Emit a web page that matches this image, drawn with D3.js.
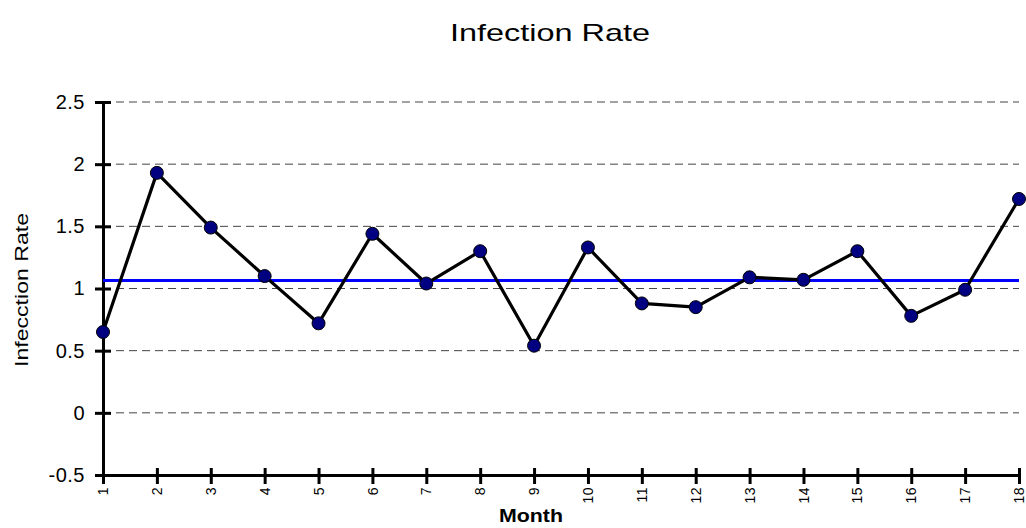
<!DOCTYPE html>
<html>
<head>
<meta charset="utf-8">
<script src="https://cdn.jsdelivr.net/npm/d3@7"></script>
<style>
  html, body { margin: 0; padding: 0; background: #fff; }
  svg { display: block; font-family: "Liberation Sans", Arial, sans-serif; }
</style>
</head>
<body>
<svg id="chart" width="1026" height="528"></svg>
<script>
// Monthly infection rates
const months = [1, 2, 3, 4, 5, 6, 7, 8, 9, 10, 11, 12, 13, 14, 15, 16, 17, 18];
const rates = [0.65, 1.93, 1.49, 1.10, 0.72, 1.44, 1.04, 1.30, 0.54, 1.33, 0.88, 0.85, 1.09, 1.07, 1.30, 0.78, 0.99, 1.72];
// Reference (centre) line
const centerLine = 1.065;
const yTicks = [-0.5, 0, 0.5, 1, 1.5, 2, 2.5];

const svg = d3.select("#chart");
const plotLeft = 103, plotRight = 1019, plotTop = 102, plotBottom = 475;
const fontFamily = "Liberation Sans, Arial, sans-serif";

const x = d3.scaleLinear().domain([1, 18]).range([plotLeft, plotRight]);
const y = d3.scaleLinear().domain([-0.5, 2.5]).range([plotBottom, plotTop]);

// Title
svg.append("text")
  .attr("x", 550).attr("y", 41)
  .attr("text-anchor", "middle")
  .attr("font-size", 24)
  .attr("textLength", 200).attr("lengthAdjust", "spacingAndGlyphs")
  .text("Infection Rate");

// Dashed gridlines
svg.append("g").selectAll("line")
  .data(yTicks.filter(d => d > -0.5))
  .join("line")
  .attr("x1", plotLeft).attr("x2", plotRight)
  .attr("y1", d => y(d)).attr("y2", d => y(d))
  .attr("stroke", "#444").attr("stroke-width", 1)
  .attr("stroke-dasharray", "8,5");

// Y axis
const yAxis = d3.axisLeft(y).tickValues(yTicks).tickSize(0).tickPadding(18)
  .tickFormat(d => String(d));
const gy = svg.append("g").attr("transform", `translate(${plotLeft},0)`).call(yAxis);
gy.attr("font-size", null).attr("font-family", null);
gy.select(".domain").attr("stroke", "#000").attr("stroke-width", 3);
gy.selectAll("text")
  .attr("font-size", 20).attr("font-family", fontFamily).attr("fill", "#000")
  .attr("letter-spacing", 0.5);
gy.selectAll(".tick").append("line")
  .attr("x1", -8).attr("x2", 8).attr("stroke", "#000").attr("stroke-width", 3);

// X axis
const xAxis = d3.axisBottom(x).tickValues(months).tickSize(0).tickFormat(d => String(d));
const gx = svg.append("g").attr("transform", `translate(0,${plotBottom})`).call(xAxis);
gx.attr("font-size", null).attr("font-family", null);
gx.select(".domain").attr("stroke", "#000").attr("stroke-width", 3);
gx.selectAll(".tick").append("line")
  .attr("y1", -7).attr("y2", 9).attr("stroke", "#000").attr("stroke-width", 3);
gx.selectAll("text")
  .attr("font-size", 14).attr("font-family", fontFamily).attr("fill", "#000")
  .attr("letter-spacing", 0.5)
  .attr("transform", "rotate(-90)")
  .attr("text-anchor", "end")
  .attr("x", -12).attr("y", 0).attr("dy", "0.33em");

// Axis titles
svg.append("text")
  .attr("transform", "translate(28,290) rotate(-90)")
  .attr("text-anchor", "middle")
  .attr("font-size", 19)
  .attr("textLength", 154).attr("lengthAdjust", "spacingAndGlyphs")
  .text("Infecction Rate");

svg.append("text")
  .attr("x", 531).attr("y", 522)
  .attr("text-anchor", "middle")
  .attr("font-size", 18).attr("font-weight", "bold")
  .attr("textLength", 64).attr("lengthAdjust", "spacingAndGlyphs")
  .text("Month");

// Centre line
svg.append("line")
  .attr("x1", x(1)).attr("x2", x(18))
  .attr("y1", y(centerLine)).attr("y2", y(centerLine))
  .attr("stroke", "#0000ff").attr("stroke-width", 3);

// Series line and markers
const pts = months.map((m, i) => [m, rates[i]]);
svg.append("path")
  .datum(pts)
  .attr("fill", "none").attr("stroke", "#000").attr("stroke-width", 3.2)
  .attr("stroke-linejoin", "round")
  .attr("d", d3.line().x(d => x(d[0])).y(d => y(d[1])));

svg.append("g").selectAll("circle")
  .data(pts).join("circle")
  .attr("cx", d => x(d[0])).attr("cy", d => y(d[1]))
  .attr("r", 6.5)
  .attr("fill", "#000080").attr("stroke", "#000").attr("stroke-width", 1);
</script>
</body>
</html>
